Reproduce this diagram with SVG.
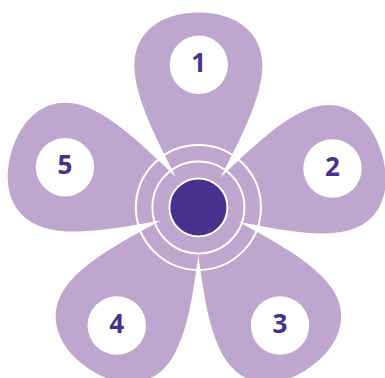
<svg xmlns="http://www.w3.org/2000/svg" width="385" height="378" viewBox="0 0 385 378">
  <style>
    .petal { fill: #bea6ce; }
    .badge { fill: #ffffff; }
    .num { font-family: "Open Sans", "Liberation Sans", sans-serif; font-weight: 700; font-size: 26px; fill: #46318f; text-anchor: middle; }
    .ring { fill: none; stroke: #ffffff; stroke-width: 2; }
    .core { fill: #46318f; stroke: #ffffff; stroke-width: 2; }
  </style>
  <defs>
    <path id="petalShape" d="M -8 0 C -25 -40 -64 -100 -64 -142 C -64 -175 -38 -195 0 -195 C 38 -195 64 -175 64 -142 C 64 -100 25 -40 8 0 Z"/>
  </defs>
  <rect width="385" height="378" fill="#ffffff"/>
  <g id="petal1">
    <use href="#petalShape" class="petal" transform="translate(198.4 207.4) rotate(0)"/>
    <circle class="badge" cx="198.8" cy="64.8" r="29.2"/>
    <text class="num" x="198.8" y="71.8">1</text>
  </g>
  <g id="petal2">
    <use href="#petalShape" class="petal" transform="translate(198.4 207.4) rotate(73.8) scale(1 0.98)"/>
    <circle class="badge" cx="332.5" cy="168.5" r="29.2"/>
    <text class="num" x="332.5" y="175.5">2</text>
  </g>
  <g id="petal3">
    <use href="#petalShape" class="petal" transform="translate(198.4 207.4) rotate(145.4)"/>
    <circle class="badge" cx="280" cy="325.5" r="29.2"/>
    <text class="num" x="280" y="333">3</text>
  </g>
  <g id="petal4">
    <use href="#petalShape" class="petal" transform="translate(198.4 207.4) rotate(214.6)"/>
    <circle class="badge" cx="116.8" cy="325.5" r="29.2"/>
    <text class="num" x="116.8" y="333">4</text>
  </g>
  <g id="petal5">
    <use href="#petalShape" class="petal" transform="translate(198.4 207.4) rotate(286.8)"/>
    <circle class="badge" cx="65" cy="167.2" r="29.2"/>
    <text class="num" x="65" y="174">5</text>
  </g>
  <g id="center">
    <circle class="ring" cx="198.4" cy="207.4" r="62.5"/>
    <circle class="ring" cx="198.4" cy="207.4" r="46"/>
    <circle class="core" cx="198.4" cy="207.4" r="29"/>
  </g>
</svg>
